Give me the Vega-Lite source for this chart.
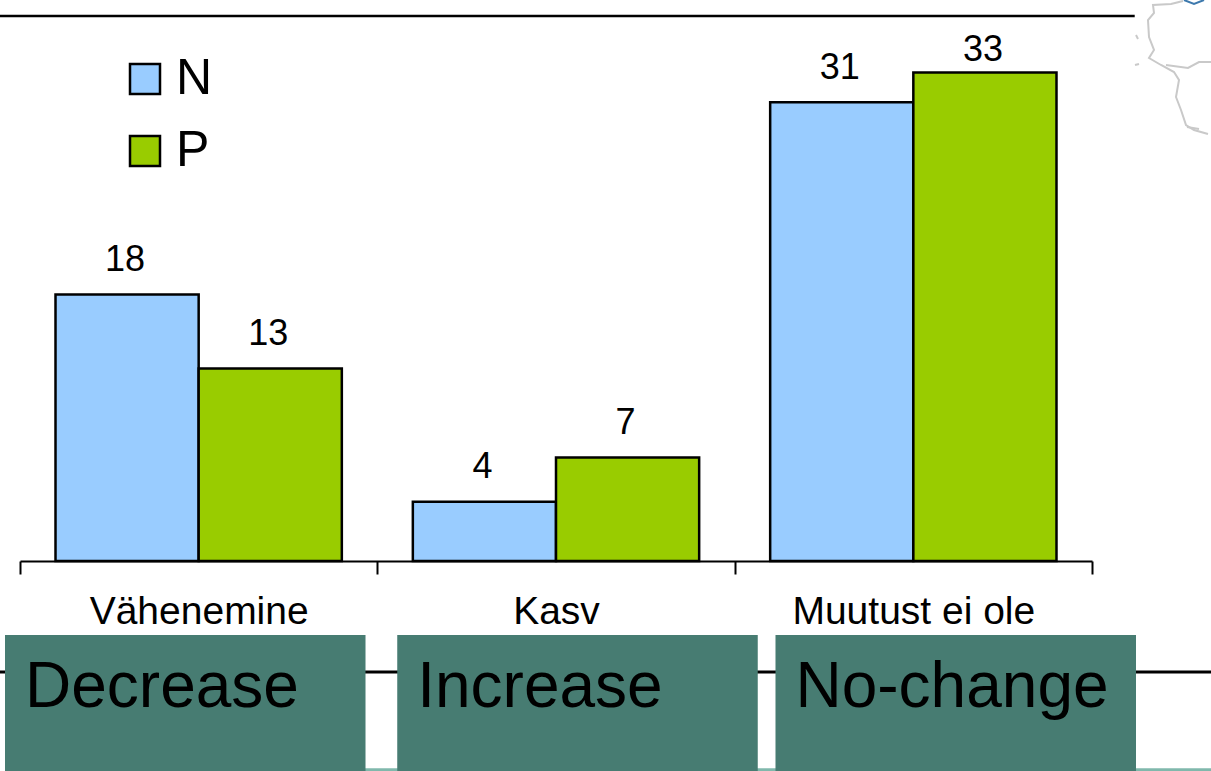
{
  "$schema": "https://vega.github.io/schema/vega-lite/v6.json",
  "width": 1211,
  "height": 561,
  "autosize": {"type": "none"},
  "padding": {"left": 0, "top": 0, "right": 0, "bottom": 210},
  "background": "white",
  "config": {"view": {"stroke": null}, "text": {"font": "Liberation Sans", "color": "black"}},
  "datasets": {
    "counts": [
      {"muutus": "Vähenemine", "aine": "N", "arv": 18},
      {"muutus": "Vähenemine", "aine": "P", "arv": 13},
      {"muutus": "Kasv", "aine": "N", "arv": 4},
      {"muutus": "Kasv", "aine": "P", "arv": 7},
      {"muutus": "Muutust ei ole", "aine": "N", "arv": 31},
      {"muutus": "Muutust ei ole", "aine": "P", "arv": 33}
    ],
    "captions": [
      {"caption": "Decrease"},
      {"caption": "Increase"},
      {"caption": "No-change"}
    ],
    "coast": [
      {"part": "coast", "order": 1, "east": 72, "south": 1},
      {"part": "coast", "order": 2, "east": 60, "south": 4},
      {"part": "coast", "order": 3, "east": 42, "south": 5},
      {"part": "coast", "order": 4, "east": 43, "south": 13},
      {"part": "coast", "order": 5, "east": 37, "south": 20},
      {"part": "coast", "order": 6, "east": 38, "south": 37},
      {"part": "coast", "order": 7, "east": 43, "south": 50},
      {"part": "coast", "order": 8, "east": 38, "south": 58},
      {"part": "coast", "order": 9, "east": 50, "south": 65},
      {"part": "coast", "order": 10, "east": 63, "south": 72},
      {"part": "coast", "order": 11, "east": 68, "south": 80},
      {"part": "coast", "order": 12, "east": 65, "south": 97},
      {"part": "coast", "order": 13, "east": 70, "south": 110},
      {"part": "coast", "order": 14, "east": 75, "south": 125},
      {"part": "coast", "order": 15, "east": 83, "south": 130},
      {"part": "coast", "order": 16, "east": 97, "south": 134},
      {"part": "border", "order": 1, "east": 55, "south": 65},
      {"part": "border", "order": 2, "east": 77, "south": 68},
      {"part": "border", "order": 3, "east": 88, "south": 62},
      {"part": "border", "order": 4, "east": 100, "south": 62},
      {"part": "island", "order": 1, "east": 25, "south": 35},
      {"part": "island", "order": 2, "east": 27, "south": 39},
      {"part": "islet", "order": 1, "east": 24, "south": 65},
      {"part": "islet", "order": 2, "east": 28, "south": 64},
      {"part": "bay", "order": 1, "east": 76, "south": 127},
      {"part": "bay", "order": 2, "east": 88, "south": 129}
    ],
    "lake": [
      {"order": 1, "east": 73, "south": 0},
      {"order": 2, "east": 83, "south": 4},
      {"order": 3, "east": 93, "south": 0}
    ]
  },
  "layer": [
    {
      "data": {"values": [{"line": "top"}]},
      "mark": {"type": "rule", "stroke": "black", "strokeWidth": 2.5},
      "encoding": {
        "x": {"datum": 0, "type": "quantitative", "scale": {"domain": [0, 1], "range": [0, 1211]}, "axis": null},
        "x2": {"datum": 0.937},
        "y": {"datum": 36.82, "type": "quantitative", "scale": {"domain": [0, 37.905], "nice": false}, "axis": null}
      }
    },
    {
      "data": {"values": [{"line": "bottom"}]},
      "mark": {"type": "rule", "stroke": "black", "strokeWidth": 3},
      "encoding": {
        "x": {"datum": 0, "type": "quantitative", "scale": {"domain": [0, 1], "range": [0, 1211]}, "axis": null},
        "x2": {"datum": 1},
        "y": {"datum": -7.5, "type": "quantitative", "scale": {"domain": [0, 37.905], "nice": false}, "axis": null}
      }
    },
    {
      "data": {"values": [{"line": "strip"}]},
      "mark": {"type": "rule", "stroke": "#80b8ac", "strokeWidth": 3},
      "encoding": {
        "x": {"datum": 0.3, "type": "quantitative", "scale": {"domain": [0, 1], "range": [0, 1211]}, "axis": null},
        "x2": {"datum": 1},
        "y": {"datum": -14.1, "type": "quantitative", "scale": {"domain": [0, 37.905], "nice": false}, "axis": null}
      }
    },
    {
      "data": {"name": "coast"},
      "mark": {"type": "line", "stroke": "#c9c9c9", "strokeWidth": 2, "interpolate": "linear"},
      "encoding": {
        "x": {"field": "east", "type": "quantitative", "scale": {"domain": [0, 100], "range": [1111, 1211]}, "axis": null},
        "y": {"field": "south", "type": "quantitative", "scale": {"domain": [0, 150], "range": [0, 150]}, "axis": null},
        "detail": {"field": "part"},
        "order": {"field": "order"}
      }
    },
    {
      "data": {"name": "lake"},
      "mark": {"type": "line", "stroke": "#3d79ad", "strokeWidth": 2},
      "encoding": {
        "x": {"field": "east", "type": "quantitative", "scale": {"domain": [0, 100], "range": [1111, 1211]}, "axis": null},
        "y": {"field": "south", "type": "quantitative", "scale": {"domain": [0, 150], "range": [0, 150]}, "axis": null},
        "order": {"field": "order"}
      }
    },
    {
      "data": {"name": "counts"},
      "encoding": {
        "x": {
          "field": "muutus",
          "type": "nominal",
          "sort": ["Vähenemine", "Kasv", "Muutust ei ole"],
          "scale": {"domain": ["Vähenemine", "Kasv", "Muutust ei ole"], "range": [20, 1092], "paddingInner": 0, "paddingOuter": 0},
          "axis": {
            "title": null,
            "labelAngle": 0,
            "labelFont": "Liberation Sans",
            "labelFontSize": 39,
            "labelColor": "black",
            "labelLimit": 0,
            "labelPadding": 18,
            "labelBaseline": "top",
            "domainColor": "black",
            "domainWidth": 2,
            "tickColor": "black",
            "tickWidth": 2,
            "tickSize": 13,
            "tickBand": "extent",
            "grid": false
          }
        },
        "xOffset": {
          "field": "aine",
          "type": "nominal",
          "scale": {"domain": ["N", "P"], "paddingInner": 0, "paddingOuter": 0.248}
        },
        "y": {"field": "arv", "type": "quantitative", "stack": null, "scale": {"domain": [0, 37.905], "nice": false}, "axis": null}
      },
      "layer": [
        {
          "mark": {"type": "bar", "stroke": "black", "strokeWidth": 2.5},
          "encoding": {
            "fill": {
              "field": "aine",
              "type": "nominal",
              "scale": {"domain": ["N", "P"], "range": ["#99ccff", "#99cc00"]},
              "legend": {
                "title": null,
                "orient": "none",
                "legendX": 120,
                "legendY": 54,
                "symbolType": "square",
                "symbolSize": 900,
                "symbolStrokeColor": "black",
                "symbolStrokeWidth": 2.5,
                "symbolOpacity": 1,
                "labelFont": "Liberation Sans",
                "labelFontSize": 50,
                "labelColor": "black",
                "labelOffset": 6,
                "rowPadding": 22,
                "encoding": {"labels": {"update": {"dy": {"value": 3}}}}
              }
            }
          }
        },
        {
          "transform": [{"filter": "datum.arv !== 33"}],
          "mark": {"type": "text", "fontSize": 36, "baseline": "middle", "dy": -34.5, "dx": -2},
          "encoding": {"text": {"field": "arv", "type": "quantitative"}}
        },
        {
          "transform": [{"filter": "datum.arv === 33"}],
          "mark": {"type": "text", "fontSize": 36, "baseline": "middle", "dy": -23, "dx": -2},
          "encoding": {"text": {"field": "arv", "type": "quantitative"}}
        }
      ]
    },
    {
      "data": {"name": "captions"},
      "encoding": {
        "x": {
          "field": "caption",
          "type": "nominal",
          "sort": ["Decrease", "Increase", "No-change"],
          "scale": {"domain": ["Decrease", "Increase", "No-change"], "range": [5, 1136], "paddingInner": 0.0642, "paddingOuter": 0},
          "axis": null
        }
      },
      "layer": [
        {
          "transform": [{"filter": "datum.caption !== 'Increase'"}],
          "mark": {"type": "bar", "fill": "#477c72"},
          "encoding": {
            "y": {"datum": -5, "type": "quantitative", "scale": {"domain": [0, 37.905], "nice": false}, "axis": null},
            "y2": {"datum": -14.3}
          }
        },
        {
          "transform": [{"filter": "datum.caption === 'Increase'"}],
          "mark": {"type": "bar", "fill": "#477c72", "xOffset": 7},
          "encoding": {
            "y": {"datum": -5, "type": "quantitative", "scale": {"domain": [0, 37.905], "nice": false}, "axis": null},
            "y2": {"datum": -14.3}
          }
        },
        {
          "transform": [{"filter": "datum.caption !== 'Increase'"}],
          "mark": {"type": "text", "fontSize": 64, "align": "left", "baseline": "alphabetic", "dx": 20},
          "encoding": {
            "x": {"field": "caption", "type": "nominal", "bandPosition": 0, "sort": ["Decrease", "Increase", "No-change"], "axis": null},
            "y": {"datum": -9.86, "type": "quantitative", "scale": {"domain": [0, 37.905], "nice": false}, "axis": null},
            "text": {"field": "caption", "type": "nominal"}
          }
        },
        {
          "transform": [{"filter": "datum.caption === 'Increase'"}],
          "mark": {"type": "text", "fontSize": 64, "align": "left", "baseline": "alphabetic", "dx": 27},
          "encoding": {
            "x": {"field": "caption", "type": "nominal", "bandPosition": 0, "sort": ["Decrease", "Increase", "No-change"], "axis": null},
            "y": {"datum": -9.86, "type": "quantitative", "scale": {"domain": [0, 37.905], "nice": false}, "axis": null},
            "text": {"field": "caption", "type": "nominal"}
          }
        }
      ]
    }
  ],
  "resolve": {"scale": {"x": "independent", "y": "independent", "xOffset": "independent"}, "axis": {"x": "independent", "y": "independent"}}
}
